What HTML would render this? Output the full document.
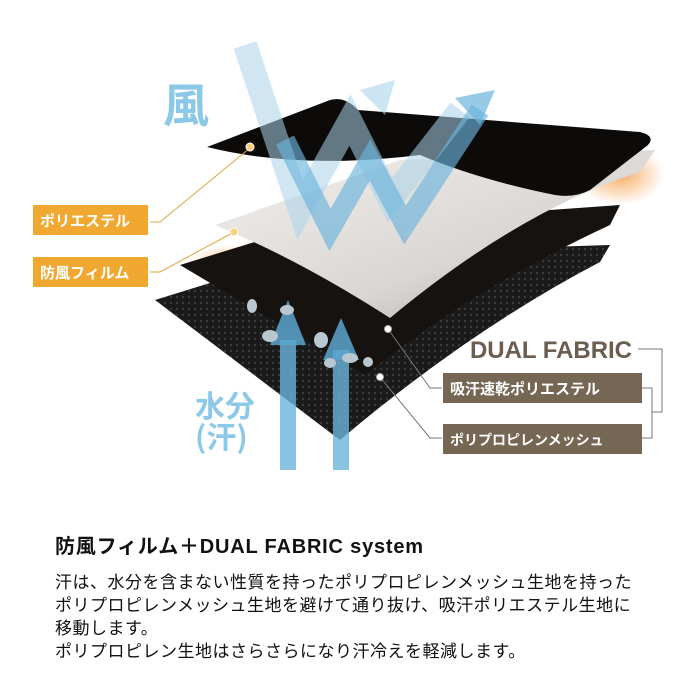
<!DOCTYPE html>
<html><head><meta charset="utf-8"><style>
html,body{margin:0;padding:0;background:#fff;}
body{width:700px;height:700px;position:relative;overflow:hidden;font-family:"Liberation Sans","Noto Sans CJK JP",sans-serif;}
.t{position:absolute;left:55px;white-space:nowrap;color:#111;}
</style></head><body>
<svg width="700" height="500" style="position:absolute;left:0;top:0" xmlns="http://www.w3.org/2000/svg">
<defs>
<radialGradient id="glow" cx="0.5" cy="0.5" r="0.5"><stop offset="0" stop-color="#f39a3c" stop-opacity="0.8"/><stop offset="1" stop-color="#f39a3c" stop-opacity="0"/></radialGradient>
<linearGradient id="wh" x1="0" y1="0" x2="1" y2="1"><stop offset="0" stop-color="#f2f0ee"/><stop offset="0.6" stop-color="#d9d6d3"/><stop offset="1" stop-color="#a9a5a2"/></linearGradient>
<pattern id="mesh" width="6" height="6" patternUnits="userSpaceOnUse"><rect width="6" height="6" fill="#1a1a1a"/><circle cx="3" cy="3" r="1.2" fill="#3a3a3a"/></pattern>
</defs>
<path d="M155 300 L300 255 L610 245 L600 262 Q470 330 340 440 Z" fill="url(#mesh)"/>
<ellipse cx="230" cy="265" rx="40" ry="20" fill="url(#glow)"/>
<path d="M180 265 L300 228 L620 205 L610 225 Q470 290 365 375 Z" fill="#161210"/>
<ellipse cx="620" cy="175" rx="45" ry="30" fill="url(#glow)"/>
<path d="M215 225 L400 160 L655 150 L640 172 Q520 210 390 318 Q300 260 215 225 Z" fill="url(#wh)"/>
<path d="M207 147 L330 100 Q345 96 358 110 L640 132 Q656 136 648 145 L590 190 Q575 198 555 195 Q480 180 420 155 Q300 170 207 147 Z" fill="#0d0b0a"/>
<g fill="none" stroke-linejoin="miter">
<path d="M245 45 L300 210 L350 120 L390 200 L460 110" stroke="#a9d3ea" stroke-opacity="0.55" stroke-width="24"/>
<path d="M285 140 L330 230 L370 160 L405 225 L480 110" stroke="#6bb4dc" stroke-opacity="0.65" stroke-width="20"/>
</g>
<polygon points="455,98 495,90 480,125" fill="#6bb4dc" fill-opacity="0.7"/>
<polygon points="360,90 395,80 385,115" fill="#a9d3ea" fill-opacity="0.6"/>
<rect x="280" y="340" width="16" height="130" fill="#6bb4dc" fill-opacity="0.8"/>
<rect x="333" y="350" width="16" height="120" fill="#6bb4dc" fill-opacity="0.8"/>
<polygon points="270,345 288,300 306,345" fill="#5aa6cf" fill-opacity="0.85"/>
<polygon points="323,360 341,318 359,360" fill="#5aa6cf" fill-opacity="0.85"/>
<g fill="#b8c7d0"><ellipse cx="252" cy="306" rx="5" ry="7"/><ellipse cx="287" cy="310" rx="7" ry="5"/><ellipse cx="270" cy="336" rx="8" ry="6"/><ellipse cx="321" cy="340" rx="7" ry="8"/><ellipse cx="330" cy="363" rx="6" ry="5"/><ellipse cx="350" cy="358" rx="8" ry="5"/><ellipse cx="368" cy="362" rx="5" ry="5"/></g>
<text x="163" y="122" font-size="46" font-weight="bold" fill="#8cc8e8" font-family="Noto Sans CJK JP,sans-serif">風</text>
<text x="195" y="417" font-size="30" font-weight="bold" fill="#8cc8e8" font-family="Noto Sans CJK JP,sans-serif">水分</text>
<text x="195" y="448" font-size="30" font-weight="bold" fill="#8cc8e8" font-family="Noto Sans CJK JP,sans-serif">(汗)</text>
<g stroke="#e0a640" stroke-width="1" fill="none">
<polyline points="150,222 160,222 250,148"/>
<polyline points="150,272 160,272 234,232"/>
</g>
<circle cx="250" cy="147" r="4" fill="#f5d07a" stroke="#fff"/>
<circle cx="234" cy="232" r="4" fill="#f5d07a" stroke="#fff"/>
<rect x="33" y="205" width="115" height="30" fill="#f0a830"/>
<rect x="33" y="257" width="115" height="30" fill="#f0a830"/>
<text x="40" y="226" font-size="15" font-weight="bold" fill="#fff" font-family="Noto Sans CJK JP,sans-serif">ポリエステル</text>
<text x="40" y="278" font-size="15" font-weight="bold" fill="#fff" font-family="Noto Sans CJK JP,sans-serif">防風フィルム</text>
<g stroke="#777" stroke-width="1" fill="none">
<polyline points="388,329 430,388 442,388"/>
<polyline points="380,377 430,438 442,438"/>
<polyline points="642,388 652,388 652,438 642,438"/>
<polyline points="638,349 662,349 662,412 652,412"/>
</g>
<circle cx="388" cy="329" r="3.5" fill="#fff" stroke="#aaa"/>
<circle cx="380" cy="377" r="3.5" fill="#fff" stroke="#aaa"/>
<text x="470" y="358" font-size="24" font-weight="bold" fill="#6b5d4f" font-family="Liberation Sans,sans-serif" textLength="162">DUAL FABRIC</text>
<rect x="443" y="373" width="199" height="30" fill="#766654"/>
<rect x="443" y="424" width="199" height="30" fill="#766654"/>
<text x="450" y="394" font-size="15" font-weight="bold" fill="#fff" font-family="Noto Sans CJK JP,sans-serif">吸汗速乾ポリエステル</text>
<text x="450" y="445" font-size="14" font-weight="bold" fill="#fff" font-family="Noto Sans CJK JP,sans-serif">ポリプロピレンメッシュ</text>
</svg>
<div class="t" style="top:530px;font-size:20px;font-weight:bold;letter-spacing:0.8px;">防風フィルム＋DUAL FABRIC system</div>
<div class="t" style="top:571px;font-size:17px;line-height:23px;letter-spacing:0.5px;">汗は、水分を含まない性質を持ったポリプロピレンメッシュ生地を持った<br>ポリプロピレンメッシュ生地を避けて通り抜け、吸汗ポリエステル生地に<br>移動します。<br>ポリプロピレン生地はさらさらになり汗冷えを軽減します。</div>
</body></html>
